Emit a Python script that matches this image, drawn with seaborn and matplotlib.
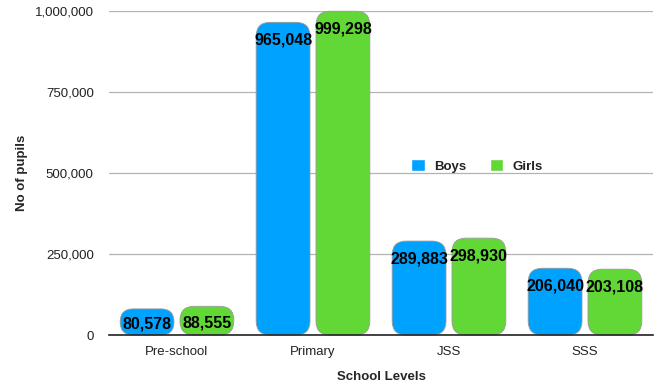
import matplotlib
matplotlib.use("Agg")
import matplotlib.pyplot as plt
from matplotlib.patches import FancyBboxPatch, Rectangle
from matplotlib.ticker import FuncFormatter
import pandas as pd
import seaborn as sns

# Pupil enrolment by school level
levels = ["Pre-school", "Primary", "JSS", "SSS"]
boys = [80578, 965048, 289883, 206040]
girls = [88555, 999298, 298930, 203108]
series = ["Boys", "Girls"]
colors = ["#00A2FF", "#61D836"]
y_ticks = [0, 250000, 500000, 750000, 1000000]

df = pd.DataFrame({
    "School Levels": levels * 2,
    "No of pupils": boys + girls,
    "Sex": [series[0]] * len(levels) + [series[1]] * len(levels),
})

sns.set_theme(style="white")
plt.rcParams["font.family"] = ["Liberation Sans", "DejaVu Sans"]

fig = plt.figure(figsize=(6.6, 3.83), dpi=100)
ax = fig.add_axes([109 / 660, 1 - 335 / 383, 544 / 660, 324 / 383])

sns.barplot(data=df, x="School Levels", y="No of pupils", hue="Sex",
            order=levels, hue_order=series, palette=colors, saturation=1,
            width=0.88, gap=0.1, ax=ax, legend=True)

ax.set_xlim(-0.5, len(levels) - 0.5)
ax.set_ylim(0, y_ticks[-1])

# pixel size of one data unit on each axis
p0 = ax.transData.transform((0, 0))
p1 = ax.transData.transform((1, 1))
px_x = p1[0] - p0[0]
px_y = p1[1] - p0[1]

# swap the plain rectangles for rounded bars
bars = [p for p in ax.patches if isinstance(p, Rectangle)]
for bar in bars:
    x, y = bar.get_x(), bar.get_y()
    w, h = bar.get_width(), bar.get_height()
    if h <= 0:
        continue
    fc = bar.get_facecolor()
    bar.remove()
    h_px = h * px_y
    r_px = min(14.0, h_px / 2, w * px_x / 2)
    r_x = r_px / px_x
    r_y = r_px / px_y
    rounded = FancyBboxPatch(
        (x, y), w, h,
        boxstyle=f"round,pad=0,rounding_size={r_x}",
        mutation_aspect=r_y / r_x,
        facecolor=fc, edgecolor="#9a9a9a", linewidth=0.6,
        clip_on=False, zorder=3,
    )
    ax.add_patch(rounded)
    off = min(18.0, h_px / 2 + 2)
    ax.annotate(f"{int(round(h)):,}", (x + w / 2, h),
                xytext=(0, -off), textcoords="offset pixels",
                ha="center", va="center", fontsize=11.5,
                fontweight="bold", color="black", zorder=4)

# axes styling
ax.set_yticks(y_ticks)
ax.yaxis.set_major_formatter(FuncFormatter(lambda v, _: f"{int(v):,}"))
ax.tick_params(axis="both", length=0, labelsize=9.5, colors="#222222")
ax.tick_params(axis="y", pad=11)
ax.tick_params(axis="x", pad=8)
for s in ["left", "right", "top"]:
    ax.spines[s].set_visible(False)
ax.spines["bottom"].set_color("#222222")
ax.spines["bottom"].set_linewidth(1.2)
ax.spines["bottom"].set_zorder(5)
ax.grid(axis="y", color="#b3b3b3", linewidth=0.9, zorder=0)
ax.set_axisbelow(True)

ax.set_xlabel("School Levels", fontsize=9.5, fontweight="bold", labelpad=9)
ax.set_ylabel("No of pupils", fontsize=9.5, fontweight="bold")
ax.yaxis.label.set_va("center")
ax.yaxis.set_label_coords(-0.160, 0.5)

handles, labels = ax.get_legend_handles_labels()
leg = ax.legend(handles, labels, ncol=2, frameon=False,
                loc="center left", bbox_to_anchor=(0.556, 0.522),
                borderaxespad=0, borderpad=0,
                handlelength=1.0, handleheight=1.0,
                handletextpad=0.7, columnspacing=1.8,
                prop={"weight": "bold", "size": 9.5})
for t in leg.get_texts():
    t.set_color("#222222")

fig.savefig("out.png", dpi=100)
